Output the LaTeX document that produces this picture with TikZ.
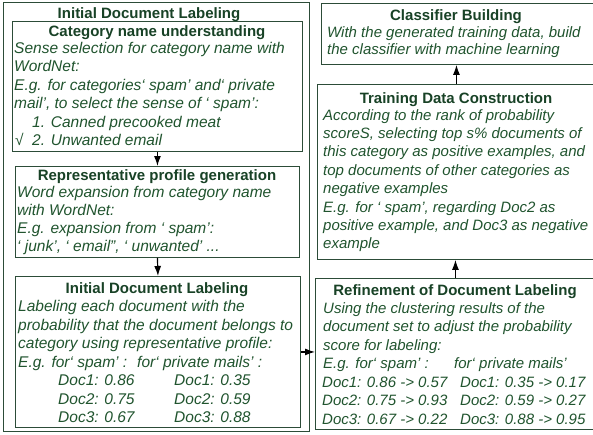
\documentclass[tikz,border=0pt]{standalone}
\usepackage{fontspec}
\setmainfont{Liberation Sans}
\usetikzlibrary{arrows.meta}
\definecolor{tgreen}{RGB}{32,84,46}
\definecolor{hgreen}{RGB}{24,66,38}
\definecolor{bgreen}{RGB}{44,76,56}
\begin{document}
\begin{tikzpicture}[x=1pt,y=-1pt,
  box/.style={draw=bgreen,line width=0.9pt,inner sep=0pt,anchor=north west},
  txt/.style={anchor=base west,inner sep=0pt,font=\fontsize{15.5}{18}\selectfont\itshape,text=tgreen},
  rtxt/.style={txt,font=\fontsize{15}{18}\selectfont\itshape},
  head/.style={anchor=base,inner sep=0pt,font=\fontsize{15}{18}\selectfont\bfseries,text=hgreen},
  arr/.style={-{Latex[length=10pt,width=7pt]},line width=1.2pt,black}]
\useasboundingbox (0,0) rectangle (593,434);
\fill[white] (0,0) rectangle (593,434);
% boxes
\node[box,minimum width=306pt,minimum height=429pt] (outer) at (3,2) {};
\node[box,minimum width=290pt,minimum height=130pt] (b1) at (12,21) {};
\node[box,minimum width=284pt,minimum height=91pt] (b2) at (15,166) {};
\node[box,minimum width=285pt,minimum height=151pt] (b3) at (15,276) {};
\node[box,minimum width=274pt,minimum height=61pt] (c1) at (321,3) {};
\node[box,minimum width=278pt,minimum height=175pt] (c2) at (317,84) {};
\node[box,minimum width=280pt,minimum height=151pt] (c3) at (315,278) {};
% title
\node[head] (t0) at (149,18) {Initial Document Labeling};
% box 1
\begin{scope}
\clip (b1.north west) rectangle (b1.south east);
\node[head] (h1) at (157,36) {Category name understanding};
\node[txt] (l11) at (14,53) {Sense selection for category name with};
\node[txt] (l12) at (14,71.5) {WordNet:};
\node[txt] (l13) at (14,90) {E.g. for categories‘ spam’ and‘ private};
\node[txt] (l14) at (14,108.5) {mail’, to select the sense of ‘ spam’:};
\node[txt] (l15) at (32,127) {1. Canned precooked meat};
\node[txt] (l16a) at (15,145.5) {√};
\node[txt] (l16) at (32,145.5) {2. Unwanted email};
\end{scope}
% box 2
\begin{scope}
\clip (b2.north west) rectangle (b2.south east);
\node[head] (h2) at (157,180) {Representative profile generation};
\node[txt] (l21) at (17,197) {Word expansion from category name};
\node[txt] (l22) at (17,215) {with WordNet:};
\node[txt] (l23) at (17,233) {E.g. expansion from ‘ spam’:};
\node[txt] (l24) at (17,251) {‘ junk’, ‘ email”, ‘ unwanted’ ...};
\end{scope}
% box 3
\begin{scope}
\clip (b3.north west) rectangle (b3.south east);
\node[head] (h3) at (157,293) {Initial Document Labeling};
\node[txt] (l31) at (18,311.5) {Labeling each document with the};
\node[txt] (l32) at (18,330) {probability that the document belongs to};
\node[txt] (l33) at (18,348.5) {category using representative profile:};
\node[txt] (l34) at (18,367) {E.g. for‘ spam’ :};
\node[txt] (l34b) at (137,367) {for‘ private mails’ :};
\node[txt] (l35) at (58,385.5) {Doc1: 0.86};
\node[txt] (l36) at (58,404) {Doc2: 0.75};
\node[txt] (l37) at (58,422.5) {Doc3: 0.67};
\node[txt] (l35b) at (174,385.5) {Doc1: 0.35};
\node[txt] (l36b) at (174,404) {Doc2: 0.59};
\node[txt] (l37b) at (174,422.5) {Doc3: 0.88};
\end{scope}
% classifier
\begin{scope}
\clip (c1.north west) rectangle (c1.south east);
\node[head] (h4) at (456,20) {Classifier Building};
\node[rtxt] (l41) at (327,37) {With the generated training data, build};
\node[rtxt] (l42) at (327,54) {the classifier with machine learning};
\end{scope}
% training
\begin{scope}
\clip (c2.north west) rectangle (c2.south east);
\node[head] (h5) at (456,103) {Training Data Construction};
\node[rtxt] (l51) at (323,120) {According to the rank of probability};
\node[rtxt] (l52) at (323,138.4) {scoreS, selecting top s\% documents of};
\node[rtxt] (l53) at (323,156.8) {this category as positive examples, and};
\node[rtxt] (l54) at (323,175.2) {top documents of other categories as};
\node[rtxt] (l55) at (323,193.6) {negative examples};
\node[rtxt] (l56) at (323,212) {E.g. for ‘ spam’, regarding Doc2 as};
\node[rtxt] (l57) at (323,230.4) {positive example, and Doc3 as negative};
\node[rtxt] (l58) at (323,248.8) {example};
\end{scope}
% refinement
\begin{scope}
\clip (c3.north west) rectangle (c3.south east);
\node[head] (h6) at (455,295) {Refinement of Document Labeling};
\node[rtxt] (l61) at (323,313) {Using the clustering results of the};
\node[rtxt] (l62) at (323,331.5) {document set to adjust the probability};
\node[rtxt] (l63) at (323,350) {score for labeling:};
\node[rtxt] (l64) at (323,368.5) {E.g. for‘ spam’ :};
\node[rtxt] (l64b) at (454,368.5) {for‘ private mails’};
\node[rtxt] (l65) at (322,387) {Doc1: 0.86 -> 0.57};
\node[rtxt] (l66) at (322,405.5) {Doc2: 0.75 -> 0.93};
\node[rtxt] (l67) at (322,424) {Doc3: 0.67 -> 0.22};
\node[rtxt] (l65b) at (460,387) {Doc1: 0.35 -> 0.17};
\node[rtxt] (l66b) at (460,405.5) {Doc2: 0.59 -> 0.27};
\node[rtxt] (l67b) at (460,424) {Doc3: 0.88 -> 0.95};
\end{scope}
% connectors
\draw[arr] (b1.south) -- (b2.north);
\draw[arr] (b2.south) -- (b3.north);
\draw[arr] (b3.east) -- (b3.east -| c3.west);
\draw[arr] (c3.north) -- (c3.north |- c2.south);
\draw[arr] (c2.north) -- (c2.north |- c1.south);
\end{tikzpicture}
\end{document}
